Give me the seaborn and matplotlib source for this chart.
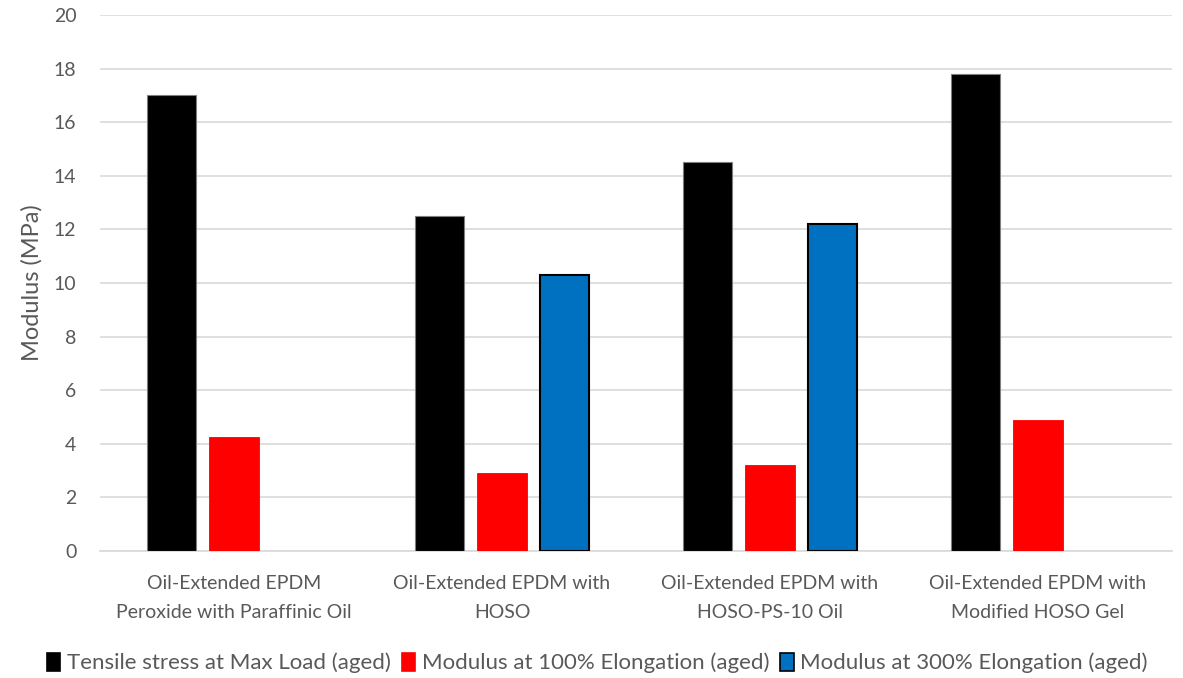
import numpy as np
import pandas as pd
import matplotlib
matplotlib.use("Agg")
import matplotlib.pyplot as plt
import seaborn as sns

categories = [
    "Oil-Extended EPDM\nPeroxide with Paraffinic Oil",
    "Oil-Extended EPDM with\nHOSO",
    "Oil-Extended EPDM with\nHOSO-PS-10 Oil",
    "Oil-Extended EPDM with\nModified HOSO Gel",
]
series_names = [
    "Tensile stress at Max Load (aged)",
    "Modulus at 100% Elongation (aged)",
    "Modulus at 300% Elongation (aged)",
]
tensile_max = [17.0, 12.5, 14.5, 17.8]
modulus_100 = [4.25, 2.9, 3.2, 4.9]
modulus_300 = [np.nan, 10.3, 12.2, np.nan]
y_ticks = [0, 2, 4, 6, 8, 10, 12, 14, 16, 18, 20]

colors = ["#000000", "#FF0000", "#0070C0"]
edges = ["#7f7f7f", "#FF0000", "#000000"]
text_gray = "#595959"

df = pd.DataFrame({
    "category": categories * 3,
    "series": [s for s in series_names for _ in categories],
    "value": tensile_max + modulus_100 + modulus_300,
})

sns.set_theme(style="white")
plt.rcParams["font.family"] = ["Lato", "DejaVu Sans"]

fig = plt.figure(figsize=(11.83, 6.78), dpi=100)
ax = fig.add_axes([100 / 1183, 127 / 678, 1072 / 1183, 536 / 678])

sns.barplot(
    data=df, x="category", y="value", hue="series",
    order=categories, hue_order=series_names,
    palette=colors, saturation=1, width=0.70, gap=0.21,
    errorbar=None, ax=ax, legend=False, zorder=3,
)

for cont, ec, lw in zip(ax.containers, edges, [0.8, 0.6, 1.5]):
    for patch in cont:
        patch.set_edgecolor(ec)
        patch.set_linewidth(lw)

ax.set_xlim(-0.5, 3.5)
ax.set_ylim(0, 20)
ax.set_yticks(y_ticks)
ax.set_yticklabels([str(t) for t in y_ticks])
ax.yaxis.grid(True, color="#d9d9d9", linewidth=1.2, zorder=0)
ax.set_axisbelow(True)
for side in ["top", "right", "left"]:
    ax.spines[side].set_visible(False)
ax.spines["bottom"].set_color("#d9d9d9")
ax.spines["bottom"].set_linewidth(1.2)
ax.tick_params(axis="both", length=0, colors=text_gray, labelsize=14)
ax.tick_params(axis="y", pad=17)
ax.tick_params(axis="x", pad=17)
for lbl in ax.get_xticklabels():
    lbl.set_linespacing(1.9)
ax.set_xlabel("")
ax.set_ylabel("Modulus (MPa)", color=text_gray, fontsize=17, labelpad=8)

handles = [
    plt.Rectangle((0, 0), 1, 1, facecolor=c, edgecolor=e, linewidth=1.2)
    for c, e in zip(colors, ["#000000", "#FF0000", "#000000"])
]
fig.legend(
    handles, series_names, loc="center", bbox_to_anchor=(0.505, 1 - 663 / 678),
    ncol=3, frameon=False, fontsize=16, handlelength=0.6, handleheight=0.9,
    handletextpad=0.3, columnspacing=0.5, labelcolor=text_gray,
)

fig.savefig("out.png", dpi=100)
